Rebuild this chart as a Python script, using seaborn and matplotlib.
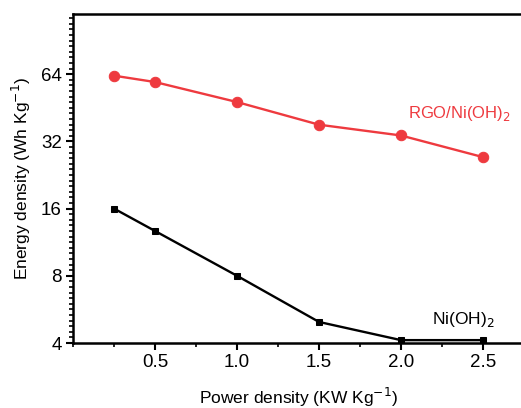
import numpy as np
import pandas as pd
import seaborn as sns
import matplotlib.pyplot as plt
from matplotlib.ticker import FixedLocator, FixedFormatter, MultipleLocator

# Data
power = [0.25, 0.5, 1.0, 1.5, 2.0, 2.5]
energy_rgo = [63.0, 59.0, 48.0, 38.0, 34.0, 27.2]
energy_ni = [16.0, 12.7, 8.0, 4.97, 4.12, 4.12]
yticks = [4, 8, 16, 32, 64]
ytick_labels = ["4", "8", "16", "32", "64"]

df = pd.DataFrame({"power": power, "rgo": energy_rgo, "ni": energy_ni})

sns.set_style("ticks", {"axes.edgecolor": "black", "xtick.color": "black",
                        "ytick.color": "black", "text.color": "black",
                        "axes.labelcolor": "black"})
plt.rcParams['font.family'] = ['Liberation Sans', 'DejaVu Sans']

fig = plt.figure(figsize=(5.21, 4.08), dpi=100)
ax = fig.add_axes([73 / 521, 65 / 408, 451 / 521, 329 / 408])

red = "#ee3a3f"
sns.lineplot(data=df, x="power", y="rgo", ax=ax, color=red, lw=1.7,
             marker="o", markersize=7.5, markeredgecolor=red)
sns.lineplot(data=df, x="power", y="ni", ax=ax, color="black", lw=1.7,
             marker="s", markersize=5, markeredgecolor="black")

ax.set_yscale("log", base=2)
ax.set_ylim(4, 119)
ax.set_xlim(0, 2.75)

ax.yaxis.set_major_locator(FixedLocator(yticks))
ax.yaxis.set_major_formatter(FixedFormatter(ytick_labels))
ax.yaxis.set_minor_locator(FixedLocator(2 ** np.arange(2, 7, 1 / 12)))
ax.yaxis.set_minor_formatter(FixedFormatter([]))
ax.xaxis.set_major_locator(FixedLocator([0.5, 1.0, 1.5, 2.0, 2.5]))
ax.xaxis.set_minor_locator(MultipleLocator(0.25))

ax.tick_params(which="major", direction="out", length=5, width=1.5,
               labelsize=13.5, pad=3)
ax.tick_params(which="minor", direction="out", length=3, width=1.2)

for s in ax.spines.values():
    s.set_linewidth(1.8)

ax.set_xlabel("Power density (KW Kg$^{-1}$)", fontsize=12.5, labelpad=11)
ax.set_ylabel("Energy density (Wh Kg$^{-1}$)", fontsize=12.5, labelpad=6)

ax.text(2.04, 42.8, "RGO/Ni(OH)$_2$", color=red, fontsize=12, va="center")
ax.text(2.19, 5.1, "Ni(OH)$_2$", color="black", fontsize=12.5, va="center")

fig.savefig("out.png", dpi=100)
